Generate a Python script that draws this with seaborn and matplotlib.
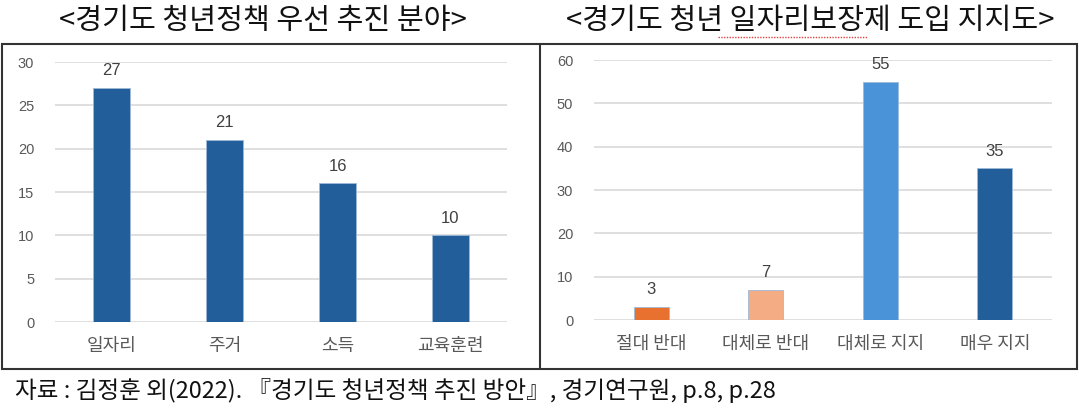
import matplotlib
matplotlib.use("Agg")
import matplotlib.pyplot as plt
import seaborn as sns
import pandas as pd
from matplotlib.patches import Rectangle
from matplotlib.lines import Line2D

sns.set_theme(style="white")
plt.rcParams['font.family'] = ['Noto Sans CJK KR', 'DejaVu Sans']

# Data
left_title = "<경기도 청년정책 우선 추진 분야>"
left_categories = ["일자리", "주거", "소득", "교육훈련"]
left_values = [27, 21, 16, 10]
left_yticks = [0, 5, 10, 15, 20, 25, 30]

right_title = "<경기도 청년 일자리보장제 도입 지지도>"
right_categories = ["절대 반대", "대체로 반대", "대체로 지지", "매우 지지"]
right_values = [3, 7, 55, 35]
right_yticks = [0, 10, 20, 30, 40, 50, 60]

source_text = "자료 : 김정훈 외(2022). 『경기도 청년정책 추진 방안』, 경기연구원, p.8, p.28"

left_colors = ["#225E99"] * 4
right_colors = ["#E9712F", "#F4AC84", "#4A93D8", "#225E99"]

W, H = 1079, 413
fig = plt.figure(figsize=(W / 100, H / 100), dpi=100)


def px(x0, y_top, x1, y_bot):
    return [x0 / W, 1 - y_bot / H, (x1 - x0) / W, (y_bot - y_top) / H]


def draw(ax, cats, vals, colors, yticks, width):
    df = pd.DataFrame({"cat": cats, "val": vals})
    sns.barplot(data=df, x="cat", y="val", hue="cat", palette=colors,
                legend=False, ax=ax, width=width, saturation=1,
                edgecolor="#9DB9D8", linewidth=0.6)
    ax.set_xlim(-0.5, len(cats) - 0.5)
    ax.set_ylim(yticks[0], yticks[-1])
    ax.set_yticks(yticks)
    ax.yaxis.grid(True, color="#D9D9D9", linewidth=1.2)
    ax.set_axisbelow(True)
    for s in ax.spines.values():
        s.set_visible(False)
    ax.set_xlabel("")
    ax.set_ylabel("")
    ax.tick_params(axis="y", labelsize=10.5, labelcolor="#595959", pad=15, length=0)
    ax.tick_params(axis="x", labelsize=13, labelcolor="#595959", pad=11, length=0)
    for lab in ax.get_yticklabels():
        lab.set_fontfamily(["Liberation Sans", "DejaVu Sans"])
    for c in ax.containers:
        ax.bar_label(c, fmt="%d", padding=7, fontsize=12, color="#404040",
                     clip_on=False, fontfamily=["Liberation Sans", "DejaVu Sans"])
    ax.set_facecolor("none")


ax1 = fig.add_axes(px(55, 62, 507, 322))
draw(ax1, left_categories, left_values, left_colors, left_yticks, 0.32)
ax2 = fig.add_axes(px(594, 60, 1052, 320))
draw(ax2, right_categories, right_values, right_colors, right_yticks, 0.31)

# Outer frame and divider
fig.add_artist(Rectangle((2 / W, 1 - 369 / H), (1077 - 2) / W, (369 - 44) / H,
                         transform=fig.transFigure, fill=False,
                         edgecolor="#333333", linewidth=1.5))
fig.add_artist(Line2D([540 / W, 540 / W], [1 - 369 / H, 1 - 44 / H],
                      transform=fig.transFigure, color="#333333", linewidth=1.5))

# Titles
fig.text(263 / W, 1 - 21 / H, left_title, ha="center", va="center",
         fontsize=21, color="#111111")
fig.text(810 / W, 1 - 21 / H, right_title, ha="center", va="center",
         fontsize=21, color="#111111")
# spell-check squiggle under 일자리보장제 (as in the reference)
fig.add_artist(Line2D([718 / W, 868 / W], [1 - 37 / H, 1 - 37 / H],
                      transform=fig.transFigure, color="#E04040",
                      linewidth=1.0, linestyle=(0, (1, 1))))

# Source
fig.text(15 / W, 1 - 391 / H, source_text, ha="left", va="center",
         fontsize=17, color="#111111")

fig.savefig("out.png", dpi=100)
